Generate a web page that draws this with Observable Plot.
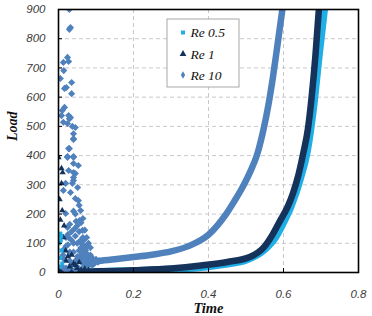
<!DOCTYPE html>
<html>
<head>
<meta charset="utf-8">
<script src="https://cdn.jsdelivr.net/npm/d3@7"></script>
<script src="https://cdn.jsdelivr.net/npm/@observablehq/plot@0.6"></script>
<style>
  html, body { margin: 0; padding: 0; background: #fff; }
  #chart svg { display: block; }
</style>
</head>
<body>
<div id="chart"></div>
<script>
// Load versus time for three Reynolds numbers

// Re 0.5 (squares)
const re05Time = [0.0, 0.05, 0.1, 0.2, 0.3, 0.4, 0.45, 0.5, 0.55, 0.58, 0.6, 0.62, 0.645, 0.664, 0.68, 0.695, 0.712];
const re05Load = [2, 2, 3, 6, 11, 20, 29, 42, 78, 122, 170, 225, 320, 417, 560, 740, 930];
const re05ScatterTime = [0.005, 0.008, 0.01, 0.002, 0.004, 0.006, 0.003, 0.007];
const re05ScatterLoad = [133, 75, 31, 100, 50, 110, 20, 125];

// Re 1 (triangles)
const re1Time = [0.0, 0.05, 0.1, 0.2, 0.3, 0.38, 0.45, 0.51, 0.55, 0.57, 0.59, 0.61, 0.625, 0.64, 0.653, 0.665, 0.675, 0.685, 0.696];
const re1Load = [3, 3, 4, 8, 14, 24, 36, 53, 90, 128, 175, 222, 270, 335, 410, 490, 600, 740, 930];
const re1ScatterTime = [0.008, 0.008, 0.01, 0.013, 0.019, 0.0, 0.011, 0.003, 0.02, 0.03, 0.04, 0.05, 0.06, 0.015, 0.005, 0.025, 0.035, 0.045, 0.055, 0.07, 0.08];
const re1ScatterLoad = [356, 305, 212, 120, 75, 394, 342, 250, 40, 20, 30, 15, 10, 160, 180, 55, 60, 25, 35, 12, 8];

// Re 10 (diamonds)
const re10Time = [0.07, 0.085, 0.1, 0.15, 0.2, 0.25, 0.3, 0.35, 0.38, 0.4, 0.424, 0.445, 0.467, 0.49, 0.512, 0.53, 0.545, 0.56, 0.572, 0.583, 0.597, 0.605];
const re10Load = [20, 30, 38, 45, 53, 61, 72, 92, 111, 129, 161, 196, 240, 290, 347, 405, 480, 575, 670, 770, 900, 975];
const re10ScatterTime = [
  0.029, 0.032, 0.029, 0.024, 0.013, 0.027, 0.014, 0.005, 0.035, 0.021, 0.016, 0.035,
  0.016, 0.010, 0.008, 0.027, 0.029, 0.013, 0.024, 0.037, 0.045, 0.040, 0.040, 0.029,
  0.024, 0.040, 0.032, 0.040, 0.040, 0.027, 0.024, 0.040, 0.040, 0.040, 0.045, 0.027,
  0.040, 0.019, 0.013, 0.032, 0.053, 0.045, 0.051, 0.053, 0.059, 0.056, 0.064, 0.067,
  0.072, 0.019, 0.024, 0.027, 0.032, 0.037,
  0.010, 0.015, 0.020, 0.025, 0.030, 0.035, 0.040, 0.045, 0.050, 0.055, 0.060, 0.065,
  0.070, 0.075, 0.080, 0.085, 0.090, 0.020, 0.030, 0.050, 0.060, 0.047, 0.040, 0.055,
  0.065, 0.075, 0.012, 0.018, 0.033, 0.043, 0.058, 0.068, 0.078, 0.088,
  0.060, 0.065, 0.070, 0.075, 0.080, 0.085, 0.090, 0.095, 0.100, 0.105, 0.110,
  0.015, 0.020, 0.025, 0.030, 0.035, 0.040, 0.045, 0.050, 0.055, 0.060, 0.025, 0.035,
  0.045, 0.055, 0.065, 0.070, 0.080, 0.085, 0.075, 0.050, 0.060, 0.045, 0.055, 0.065
];
const re10ScatterLoad = [
  900, 838, 832, 736, 719, 722, 691, 664, 650, 633, 630, 612,
  565, 554, 537, 537, 526, 514, 510, 500, 496, 475, 455, 424,
  397, 397, 530, 458, 394, 424, 394, 373, 342, 315, 253, 349,
  325, 305, 281, 274, 366, 339, 291, 246, 212, 178, 144, 110,
  75, 202, 154, 120, 65, 305,
  20, 45, 90, 130, 165, 110, 70, 40, 100, 140, 60, 30,
  80, 50, 35, 60, 25, 15, 40, 20, 110, 175, 210, 75,
  95, 120, 60, 10, 25, 150, 45, 70, 40, 45,
  45, 55, 35, 65, 45, 40, 50, 30, 45, 35, 40,
  80, 120, 95, 70, 140, 100, 125, 55, 105, 85, 10, 25,
  10, 45, 120, 145, 100, 85, 90, 160, 170, 200, 230, 185
];

const yTicks = [0, 100, 200, 300, 400, 500, 600, 700, 800, 900];
const xTicks = [0, 0.2, 0.4, 0.6, 0.8];
const seriesNames = ["Re 0.5", "Re 1", "Re 10"];

const colors = { "Re 0.5": "#1faee5", "Re 1": "#14325a", "Re 10": "#4f81bd" };

const zip = (xs, ys) => xs.map((t, i) => ({ time: t, load: ys[i] }));
const re05Curve = zip(re05Time, re05Load);
const re1Curve = zip(re1Time, re1Load);
const re10Curve = zip(re10Time, re10Load);
const re05Pts = zip(re05ScatterTime, re05ScatterLoad);
const re1Pts = zip(re1ScatterTime, re1ScatterLoad);
const re10Pts = zip(re10ScatterTime, re10ScatterLoad);

const tickFont = { fontFamily: "Liberation Sans, Arial, sans-serif", fontSize: 11.5, fill: "#3c3c3c" };
const titleFont = { fontFamily: "Liberation Serif, serif", fontWeight: "bold", fontStyle: "italic", fill: "#111" };

const chart = Plot.plot({
  width: 372,
  height: 316,
  marginLeft: 58,
  marginRight: 14,
  marginTop: 9,
  marginBottom: 44,
  x: { domain: [0, 0.8] },
  y: { domain: [0, 900] },
  marks: [
    Plot.gridX(xTicks.slice(1, -1), { stroke: "#c8c8c8", strokeOpacity: 1, strokeDasharray: "4,3" }),
    Plot.gridY(yTicks.slice(1, -1), { stroke: "#c8c8c8", strokeOpacity: 1, strokeDasharray: "4,3" }),

    Plot.line(re05Curve, { x: "time", y: "load", stroke: colors["Re 0.5"], strokeWidth: 7, curve: "monotone-x", clip: true }),
    Plot.line(re1Curve, { x: "time", y: "load", stroke: colors["Re 1"], strokeWidth: 6.5, curve: "monotone-x", clip: true }),
    Plot.line(re10Curve, { x: "time", y: "load", stroke: colors["Re 10"], strokeWidth: 6.5, curve: "monotone-x", clip: true }),

    Plot.dot(re10Pts, { x: "time", y: "load", symbol: "diamond2", r: 3.2, fill: colors["Re 10"], stroke: "none", clip: true }),
    Plot.dot(re1Pts, { x: "time", y: "load", symbol: "triangle2", r: 3, fill: colors["Re 1"], stroke: "none", clip: true }),
    Plot.dot(re05Pts, { x: "time", y: "load", symbol: "square2", r: 2.6, fill: colors["Re 0.5"], stroke: "none", clip: true }),

    Plot.frame({ stroke: "#000", strokeWidth: 1.6 }),

    Plot.axisX({ ticks: xTicks, tickSize: 0, tickPadding: 17, label: null, tickFormat: d => d === 0 ? "0" : d3.format(".1f")(d), ...tickFont }),
    Plot.axisX({ ticks: xTicks, tickSize: 4, text: null, label: null, dy: -4, stroke: "#000" }),
    Plot.axisY({ ticks: yTicks, tickSize: 0, tickPadding: 13, label: null, ...tickFont }),
    Plot.axisY({ ticks: yTicks, tickSize: 4, text: null, label: null, dx: 4, stroke: "#000" }),

    Plot.text(["Time"], { frameAnchor: "bottom", dy: 40.5, lineAnchor: "bottom", fontSize: 14.5, ...titleFont }),
    Plot.text(["Load"], { frameAnchor: "left", dx: -46, rotate: -90, fontSize: 14, ...titleFont })
  ]
});

document.getElementById("chart").appendChild(chart);

const svg = d3.select(chart);

// Italic tick labels
svg.selectAll('g[aria-label="x-axis tick label"] text, g[aria-label="y-axis tick label"] text')
  .style("font-style", "italic")
  .style("font-family", "'Liberation Sans', Arial, sans-serif");

// Legend box inside the plot area
const legend = svg.append("g").attr("transform", "translate(167,19)").attr("text-anchor", "start");
legend.append("rect").attr("width", 72).attr("height", 68).attr("fill", "#fff").attr("stroke", "#a8a8a8").attr("stroke-width", 1);
const symbolTypes = { "Re 0.5": d3.symbolSquare, "Re 1": d3.symbolTriangle, "Re 10": d3.symbolDiamond };
const symbolSizes = { "Re 0.5": 16, "Re 1": 20, "Re 10": 16 };
const rowY = [13.5, 35, 56];
seriesNames.forEach((name, i) => {
  const row = legend.append("g").attr("transform", `translate(0,${rowY[i]})`);
  row.append("path")
    .attr("transform", "translate(16,0)")
    .attr("d", d3.symbol(symbolTypes[name], symbolSizes[name])())
    .attr("fill", colors[name]);
  row.append("text")
    .attr("x", 23.5)
    .attr("dy", "0.35em")
    .style("font-family", "'Liberation Serif', serif")
    .style("font-style", "italic")
    .style("font-size", "13.5px")
    .attr("fill", "#111")
    .text(name);
});
</script>
</body>
</html>
